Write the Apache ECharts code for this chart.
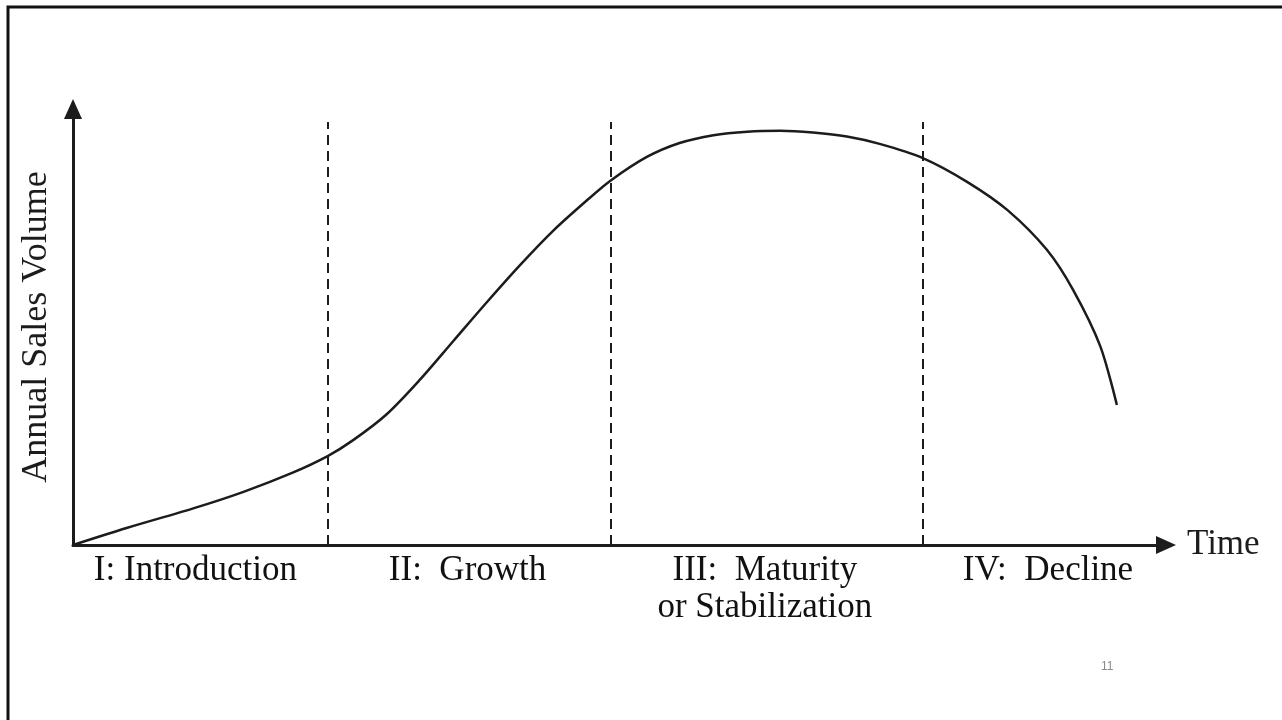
<!DOCTYPE html>
<html>
<head>
<meta charset="utf-8">
<script src="https://cdn.jsdelivr.net/npm/echarts@6/dist/echarts.min.js"></script>
<style>
html,body{margin:0;padding:0;background:#fff;}
#chart{width:1282px;height:720px;}
</style>
</head>
<body>
<div id="chart"></div>
<script>
// Product life cycle curve (time, annual sales volume)
const curveX = [0, 4.9, 11.0, 15.6, 20.1, 23.3, 25.6, 28.7, 31.7, 34.8, 37.9, 40.9, 43.9, 47.0, 49.2, 52.5, 55.5, 58.6, 61.7, 64.7, 67.7, 70.8, 73.8, 77.7, 81.8, 85.5, 89.1, 91.5, 94.0, 95.5];
const curveY = [0, 3.9, 8.4, 12.2, 16.6, 20.4, 24.0, 30.0, 37.8, 46.8, 55.8, 64.2, 72.0, 79.0, 83.6, 89.0, 92.2, 94.0, 94.8, 95.0, 94.6, 93.7, 92.0, 88.8, 83.3, 76.8, 67.7, 58.5, 45.5, 32.1];
// Stage boundaries (dashed lines)
const boundaries = [23.3, 49.2, 77.7];
const boundaryTop = 97;
// Stage labels
const stageNames = ['I: Introduction', 'II:  Growth', 'III:  Maturity\nor Stabilization', 'IV:  Decline'];
const stageX = [11.2, 36.1, 63.3, 89.2];
const xName = 'Time';
const yName = 'Annual Sales Volume';
const pageNumber = '11';

const serif = "'Liberation Serif', 'DejaVu Serif', serif";
const ink = '#1c1c1c';

const chart = echarts.init(document.getElementById('chart'), null, {renderer: 'canvas'});
const option = {
  backgroundColor: '#fff',
  animation: false,
  grid: {left: 73, right: 116, top: 109, bottom: 175, containLabel: false},
  xAxis: {
    type: 'value', min: 0, max: 100,
    name: xName, nameLocation: 'end', nameGap: 21,
    nameTextStyle: {fontFamily: serif, fontSize: 35, color: ink, verticalAlign: 'middle'},
    axisLine: {show: true, symbol: ['none', 'triangle'], symbolSize: [18, 20], lineStyle: {color: ink, width: 3}},
    axisTick: {show: false}, axisLabel: {show: false}, splitLine: {show: false}
  },
  yAxis: {
    type: 'value', min: 0, max: 100,
    name: yName, nameLocation: 'middle', nameGap: 18, nameRotate: 90,
    nameTextStyle: {fontFamily: serif, fontSize: 36, color: ink},
    axisLine: {show: true, symbol: ['none', 'triangle'], symbolSize: [18, 20], lineStyle: {color: ink, width: 3}},
    axisTick: {show: false}, axisLabel: {show: false}, splitLine: {show: false}
  },
  series: [
    {
      type: 'line',
      data: curveX.map((x, i) => [x, curveY[i]]),
      smooth: 0.3,
      showSymbol: false,
      lineStyle: {color: ink, width: 2.5},
      z: 3,
      markLine: {
        silent: true,
        symbol: ['none', 'none'],
        label: {show: false},
        lineStyle: {color: ink, width: 2, type: [10, 6]},
        data: boundaries.map(b => [{coord: [b, 0]}, {coord: [b, boundaryTop]}])
      },
      markPoint: {
        silent: true,
        symbol: 'circle',
        symbolSize: 0.1,
        itemStyle: {color: ink, opacity: 1},
        label: {
          show: true,
          position: 'bottom',
          distance: 7,
          formatter: p => p.name,
          fontFamily: serif,
          fontSize: 35,
          lineHeight: 37,
          color: '#111',
          opacity: 1,
          align: 'center'
        },
        data: stageX.map((x, i) => ({coord: [x, 0], name: stageNames[i]}))
      }
    }
  ],
  graphic: [
    {type: 'polyline', shape: {points: [[8, 720], [8, 7], [1282, 7]]}, style: {stroke: '#111', lineWidth: 3, fill: null}},
    {type: 'text', left: 1101, top: 661, style: {text: pageNumber, fontFamily: "'Liberation Sans', Arial, sans-serif", fontSize: 12, fill: '#8a8a8a'}}
  ]
};
chart.setOption(option);
</script>
</body>
</html>
